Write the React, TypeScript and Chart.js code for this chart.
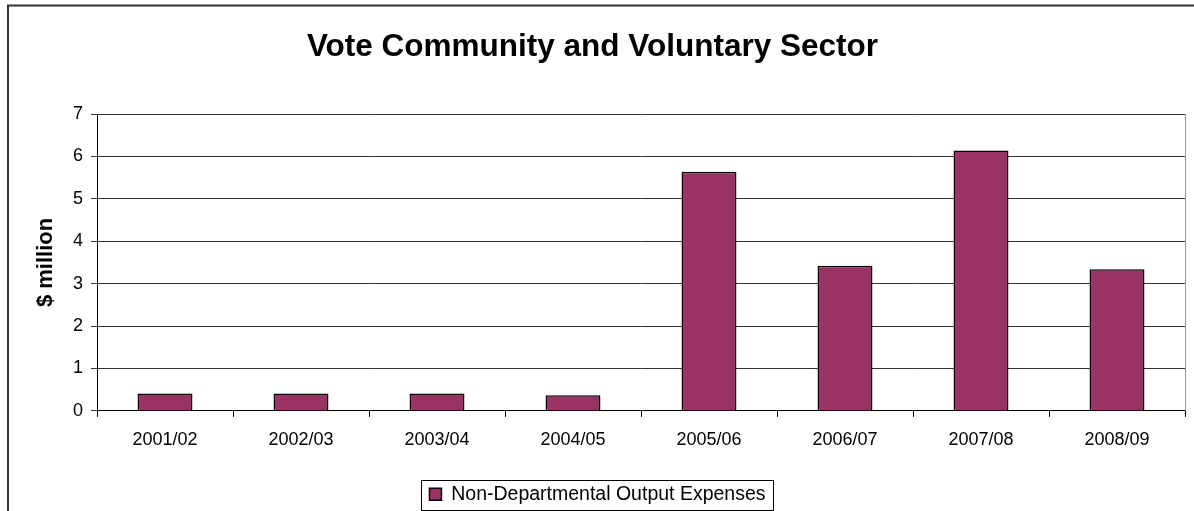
import React, { useEffect, useRef } from 'react';
import { Chart, registerables } from 'chart.js';

Chart.register(...registerables);

const chartTitle = 'Vote Community and Voluntary Sector';
const yAxisTitle = '$ million';
const seriesName = 'Non-Departmental Output Expenses';
const categories = ['2001/02', '2002/03', '2003/04', '2004/05', '2005/06', '2006/07', '2007/08', '2008/09'];
const expenses = [0.41, 0.41, 0.41, 0.37, 5.64, 3.42, 6.14, 3.34];
const yMin = 0;
const yMax = 7;
const yStep = 1;

const FONT = '"Liberation Sans", Arial, Helvetica, sans-serif';
const W = 1194;
const H = 511;

const framePlugin = {
  id: 'framePlugin',
  afterLayout(chart: any) {
    const lg = chart.legend;
    if (lg) {
      lg.top += 3;
      lg.bottom += 3;
      lg.left += 5;
      lg.right += 5;
    }
  },
  beforeDraw(chart: any) {
    const ctx = chart.ctx;
    ctx.save();
    ctx.fillStyle = '#ffffff';
    ctx.fillRect(0, 0, chart.width, chart.height);
    ctx.restore();
  },
  afterDraw(chart: any) {
    const ctx = chart.ctx;
    const a = chart.chartArea;
    ctx.save();
    // outer chart frame (left and top visible)
    ctx.strokeStyle = '#333333';
    ctx.lineWidth = 2;
    ctx.beginPath();
    ctx.moveTo(8, chart.height);
    ctx.lineTo(8, 5.5);
    ctx.lineTo(chart.width, 5.5);
    ctx.stroke();
    // plot area right border
    ctx.strokeStyle = '#999999';
    ctx.lineWidth = 1;
    ctx.beginPath();
    ctx.moveTo(a.right + 0.5, a.top);
    ctx.lineTo(a.right + 0.5, a.bottom);
    ctx.stroke();
    // legend frame
    const hb = chart.legend && chart.legend.legendHitBoxes && chart.legend.legendHitBoxes[0];
    if (hb) {
      ctx.strokeStyle = '#000000';
      ctx.lineWidth = 1;
      const x0 = Math.round(hb.left - 8) + 0.5;
      const x1 = Math.round(hb.left + hb.width + 7) + 0.5;
      const y0 = Math.round(hb.top - 5) + 0.5;
      const y1 = Math.round(hb.top + hb.height + 6) + 0.5;
      ctx.strokeRect(x0, y0, x1 - x0, y1 - y0);
    }
    ctx.restore();
  },
};

export default function App() {
  const canvasRef = useRef<HTMLCanvasElement | null>(null);

  useEffect(() => {
    const canvas = canvasRef.current;
    if (!canvas) return;
    const chart = new Chart(canvas, {
      type: 'bar',
      data: {
        labels: categories,
        datasets: [
          {
            label: seriesName,
            data: expenses,
            backgroundColor: '#993366',
            borderColor: '#000000',
            borderWidth: 1.5,
            barPercentage: 0.404,
            categoryPercentage: 1,
          },
        ],
      },
      options: {
        responsive: false,
        animation: false,
        events: [],
        layout: { padding: { left: 0, right: 9, top: 0, bottom: 0 } },
        plugins: {
          title: {
            display: true,
            text: chartTitle,
            color: '#000000',
            font: { family: FONT, size: 31.5, weight: 'bold', lineHeight: 1.2 },
            padding: { top: 28.5, bottom: 47.7 },
          },
          legend: {
            display: true,
            position: 'bottom',
            labels: {
              color: '#000000',
              font: { family: FONT, size: 19.5 },
              boxWidth: 12,
              boxHeight: 12,
              padding: 10,
            },
          },
          tooltip: { enabled: false },
        },
        scales: {
          x: {
            grid: {
              display: true,
              drawOnChartArea: false,
              drawTicks: true,
              tickLength: 6,
              color: '#000000',
              offset: true,
            },
            border: { color: '#000000', width: 1 },
            ticks: {
              color: '#000000',
              font: { family: FONT, size: 18 },
              padding: 12,
              maxRotation: 0,
              autoSkip: false,
            },
            afterFit: (s: any) => {
              s.height = 60.6;
            },
          },
          y: {
            min: yMin,
            max: yMax,
            ticks: {
              stepSize: yStep,
              color: '#000000',
              font: { family: FONT, size: 18 },
              padding: 8,
            },
            grid: { color: '#333333', tickLength: 6 },
            border: { color: '#000000', width: 1 },
            title: {
              display: true,
              text: yAxisTitle,
              color: '#000000',
              font: { family: FONT, size: 22, weight: 'bold', lineHeight: 1.2 },
              padding: { top: 33, bottom: 0 },
            },
            afterFit: (s: any) => {
              s.width = 97;
            },
          },
        },
      } as any,
      plugins: [framePlugin],
    });
    return () => {
      chart.destroy();
    };
  }, []);

  return (
    <div style={{ position: 'fixed', left: 0, top: 0, width: W, height: H, background: '#ffffff' }}>
      <canvas ref={canvasRef} width={W} height={H} style={{ display: 'block', width: W, height: H }} />
    </div>
  );
}
